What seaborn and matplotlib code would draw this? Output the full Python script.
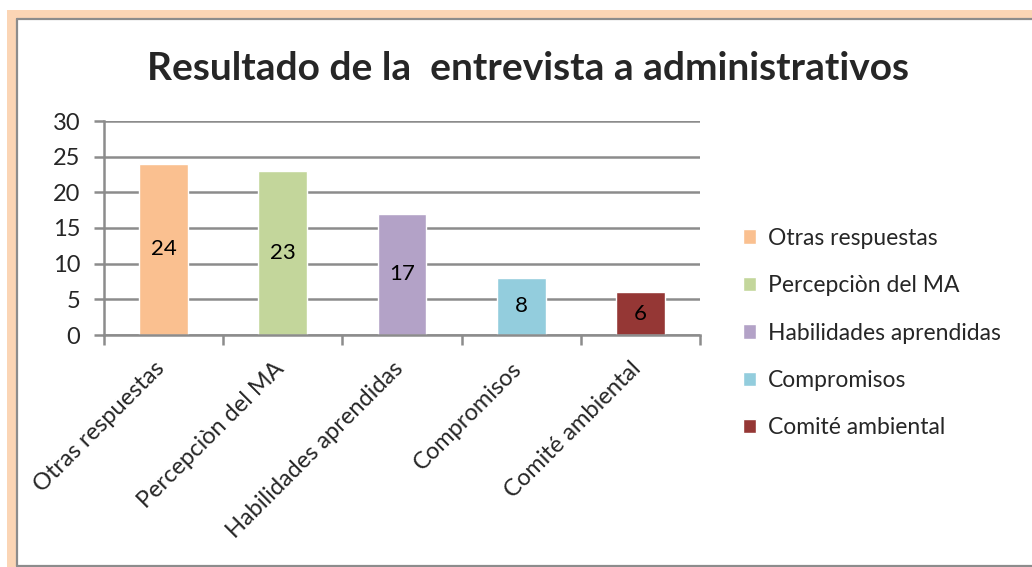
import matplotlib
matplotlib.use("Agg")
import matplotlib.pyplot as plt
import seaborn as sns
import pandas as pd
from matplotlib.patches import Rectangle
from matplotlib.lines import Line2D
import matplotlib.transforms as mtransforms

categories = ["Otras respuestas", "Percepciòn del MA", "Habilidades aprendidas",
              "Compromisos", "Comité ambiental"]
values = [24, 23, 17, 8, 6]
colors = ["#FAC090", "#C3D69B", "#B3A2C7", "#93CDDD", "#953735"]
yticks = [0, 5, 10, 15, 20, 25, 30]
title = "Resultado de la  entrevista a administrativos"

sns.set_theme(style="white")
plt.rcParams["font.family"] = ["Lato", "DejaVu Sans"]

W, H = 1032, 567
fig = plt.figure(figsize=(W / 100, H / 100), dpi=100)
fig.patch.set_facecolor("white")

# frame decoration
def px(x0, y0, w, h, **kw):
    fig.patches.append(Rectangle((x0 / W, 1 - (y0 + h) / H), w / W, h / H,
                                 transform=fig.transFigure, figure=fig, **kw))
px(7, 10, W - 7, 8, facecolor="#FBD5B5", edgecolor="none")
px(7, 10, 9, H - 10, facecolor="#FBD5B5", edgecolor="none")
fig.lines.append(Line2D([17 / W, 1], [1 - 19 / H] * 2, transform=fig.transFigure, color="#8C8C8C", lw=1.6))
fig.lines.append(Line2D([17 / W] * 2, [1 - 19 / H, 1 - 566 / H], transform=fig.transFigure, color="#8C8C8C", lw=1.6))
fig.lines.append(Line2D([17 / W, 1], [1 - 566 / H] * 2, transform=fig.transFigure, color="#8C8C8C", lw=1.6))

ax = fig.add_axes([104 / W, 1 - 335 / H, (700 - 104) / W, (335 - 121) / H])
df = pd.DataFrame({"cat": categories, "val": values})
sns.barplot(data=df, x="cat", y="val", hue="cat", palette=colors, width=0.41,
            dodge=False, legend=True, ax=ax, saturation=1)

ax.set_ylim(0, 30)
ax.set_xlim(-0.5, 4.5)
ax.set_yticks(yticks)
ax.set_xlabel("")
ax.set_ylabel("")
ax.yaxis.grid(True, color="#8C8C8C", lw=1.8)
ax.set_axisbelow(True)
for s in ["top", "right"]:
    ax.spines[s].set_visible(False)
for s in ["left", "bottom"]:
    ax.spines[s].set_color("#8C8C8C")
    ax.spines[s].set_linewidth(1.8)
ax.tick_params(axis="y", length=7, width=1.8, color="#8C8C8C", labelsize=17, pad=10, left=True)
ax.set_xticks([i - 0.5 for i in range(6)], minor=True)
ax.tick_params(axis="x", which="minor", length=7, width=1.8, color="#8C8C8C", bottom=True)
ax.tick_params(axis="x", which="major", length=0, labelsize=17, pad=2)
ax.set_xticks(range(len(categories)))
ax.set_xticklabels(categories, rotation=45, ha="right", rotation_mode="anchor")
offset = mtransforms.ScaledTranslation(-10 / 100, -20 / 100, fig.dpi_scale_trans)
for lab in ax.get_xticklabels():
    lab.set_transform(lab.get_transform() + offset)

for c in ax.containers:
    ax.bar_label(c, label_type="center", fontsize=16, color="black")

handles, labels = ax.get_legend_handles_labels()
ax.legend(handles, labels, loc="center left", bbox_to_anchor=(722 / W, 1 - 333 / H),
          bbox_transform=fig.transFigure, frameon=False, fontsize=16.5,
          handlelength=0.6, handleheight=0.6, handletextpad=0.5, labelspacing=1.15)

fig.text(528 / W, 1 - 68 / H, title, ha="center", va="center", fontsize=28, fontweight="bold")

fig.savefig("out.png", dpi=100)
